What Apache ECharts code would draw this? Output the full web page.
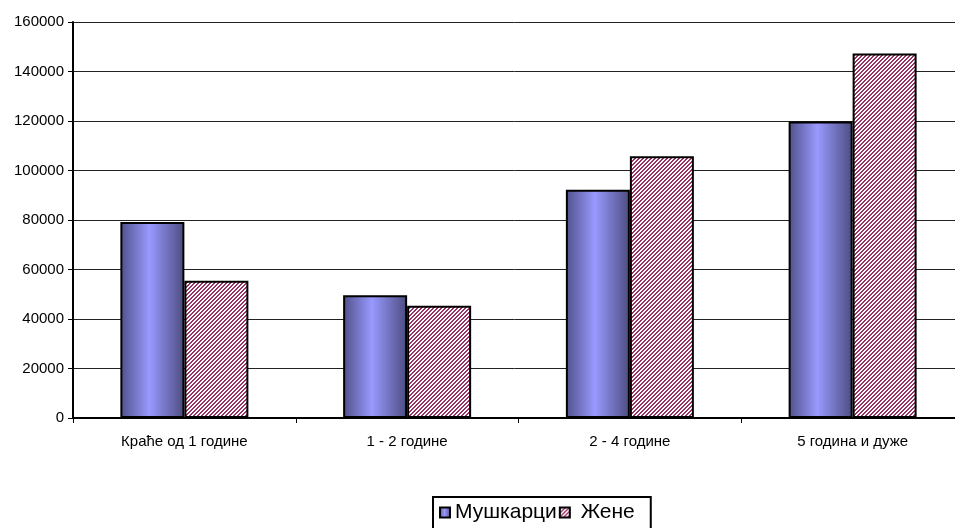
<!DOCTYPE html>
<html>
<head>
<meta charset="utf-8">
<script src="https://cdn.jsdelivr.net/npm/echarts@6/dist/echarts.min.js"></script>
<style>
  html, body { margin: 0; padding: 0; background: #fff; }
  #chart { width: 955px; height: 528px; }
</style>
</head>
<body>
<div id="chart"></div>
<script>
var categories = ['Краће од 1 године', '1 - 2 године', '2 - 4 године', '5 година и дуже'];
var men = [79200, 49600, 92200, 119800];
var women = [55500, 45400, 105800, 147300];
var seriesNames = ['Мушкарци', 'Жене'];

// diagonal hatch for the second series
var hatch = document.createElement('canvas');
hatch.width = 4;
hatch.height = 4;
var hctx = hatch.getContext('2d');
hctx.fillStyle = '#ffffff';
hctx.fillRect(0, 0, 4, 4);
hctx.fillStyle = '#993366';
for (var x = 0; x < 4; x++) {
  for (var y = 0; y < 4; y++) {
    if ((x + y) % 4 < 2) hctx.fillRect(x, y, 1, 1);
  }
}

var blueGrad = new echarts.graphic.LinearGradient(0, 0, 1, 0, [
  { offset: 0, color: '#50508a' },
  { offset: 0.45, color: '#9999ff' },
  { offset: 1, color: '#4c4c80' }
]);

var myChart = echarts.init(document.getElementById('chart'));

var option = {
  animation: false,
  textStyle: { fontFamily: 'Liberation Sans, Arial, sans-serif', color: '#000' },
  // plot runs a little past the right edge of the picture
  grid: { left: 73, top: 22, width: 891, bottom: 110, outerBoundsMode: 'none', containLabel: false },
  legend: {
    data: seriesNames,
    icon: 'rect',
    left: 433,
    top: 497,
    itemWidth: 10,
    itemHeight: 10,
    itemGap: 2,
    padding: [5, 16, 10, 6],
    borderColor: '#000',
    borderWidth: 2,
    backgroundColor: '#fff',
    formatter: function (name) {
      return name === 'Жене' ? ' ' + name : name;
    },
    textStyle: { fontSize: 21, color: '#000' }
  },
  xAxis: {
    type: 'category',
    data: categories,
    axisLine: { lineStyle: { color: '#000', width: 2 } },
    axisTick: { show: true, length: 5, lineStyle: { color: '#000', width: 1 } },
    axisLabel: { fontSize: 15, color: '#000', margin: 16 }
  },
  yAxis: {
    type: 'value',
    min: 0,
    max: 160000,
    interval: 20000,
    axisLine: { show: true, lineStyle: { color: '#000', width: 2 } },
    axisTick: { show: true, length: 5, lineStyle: { color: '#000', width: 1 } },
    axisLabel: { fontSize: 15, color: '#000', margin: 9, formatter: function (v) { return String(v); } },
    splitLine: { lineStyle: { color: '#222', width: 1 } }
  },
  series: [
    {
      name: seriesNames[0],
      type: 'bar',
      data: men,
      barWidth: 64,
      barGap: '0%',
      itemStyle: { color: blueGrad, borderColor: '#000', borderWidth: 2 }
    },
    {
      name: seriesNames[1],
      type: 'bar',
      data: women,
      barWidth: 64,
      itemStyle: { color: { image: hatch, repeat: 'repeat' }, borderColor: '#000', borderWidth: 2 }
    }
  ]
};

myChart.setOption(option);
window.addEventListener('resize', function () {
  myChart.resize();
});
</script>
</body>
</html>
